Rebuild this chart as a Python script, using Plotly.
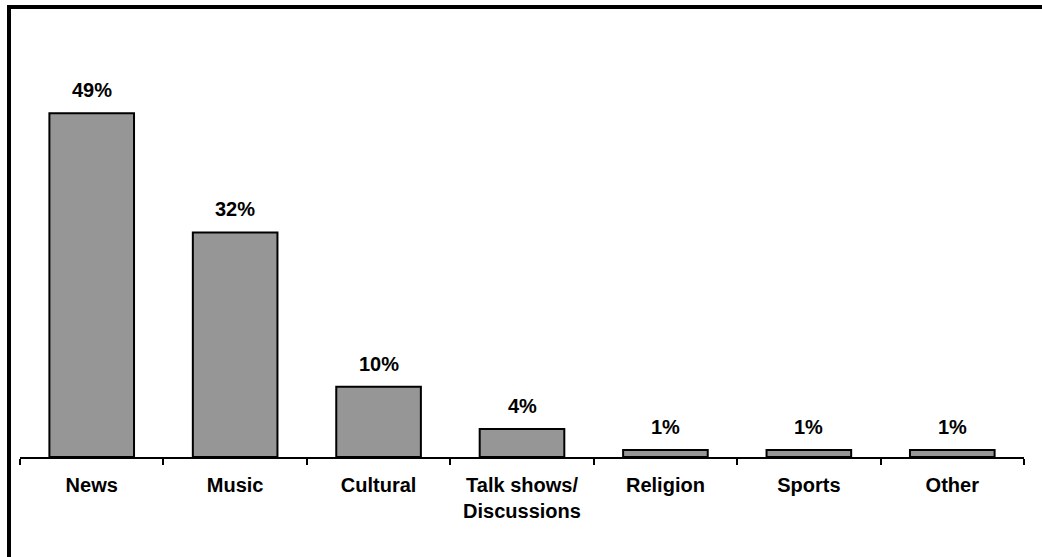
import plotly.graph_objects as go

# Share of listeners by programme type
categories = ["News", "Music", "Cultural", "Talk shows/<br>Discussions", "Religion", "Sports", "Other"]
shares = [49, 32, 10, 4, 1, 1, 1]
title_text = "Listening share of the content heard most often among all listeners"

W, H = 1042, 557
ML, MR, MT, MB = 20, 18, 36, 100
PW, PH = W - ML - MR, H - MT - MB


def px_x(p):
    return (p - ML) / PW


def px_y(p):
    return (H - MB - p) / PH


label_font = dict(family="Liberation Sans, Arial, sans-serif", size=20, color="black", weight="bold")

fig = go.Figure()
fig.add_trace(go.Bar(
    x=categories,
    y=shares,
    marker=dict(color="#969696", line=dict(color="black", width=2)),
    hoverinfo="skip",
))

# value labels above each bar
for c, v in zip(categories, shares):
    fig.add_annotation(
        x=c, y=v, text=f"{v}%", showarrow=False,
        xref="x", yref="y", yanchor="bottom", yshift=10,
        font=label_font,
    )

# title sitting above the visible frame
fig.add_annotation(
    x=px_x(225), y=px_y(2), xref="paper", yref="paper",
    xanchor="left", yanchor="bottom", showarrow=False,
    text=title_text,
    font=dict(family="Liberation Serif, Times New Roman, serif", size=18, color="black", weight="bold"),
)

# outer frame (left and top edges)
fig.add_shape(
    type="path", xref="paper", yref="paper",
    path=f"M {px_x(9)},{px_y(H + 10)} L {px_x(9)},{px_y(7)} L {px_x(W + 10)},{px_y(7)}",
    line=dict(color="black", width=4),
)

fig.update_layout(
    width=W, height=H,
    margin=dict(l=ML, r=MR, t=MT, b=MB),
    paper_bgcolor="white", plot_bgcolor="white",
    bargap=0.41,
    showlegend=False,
    xaxis=dict(
        type="category",
        showline=True, linecolor="black", linewidth=2,
        ticks="outside", tickson="boundaries", ticklen=6, tickwidth=2, tickcolor="black",
        tickfont=label_font,
        showgrid=False, zeroline=False,
        ticklabelstandoff=9,
    ),
    yaxis=dict(range=[0, 60], visible=False, showgrid=False, zeroline=False),
)

fig.write_html("out.html")
